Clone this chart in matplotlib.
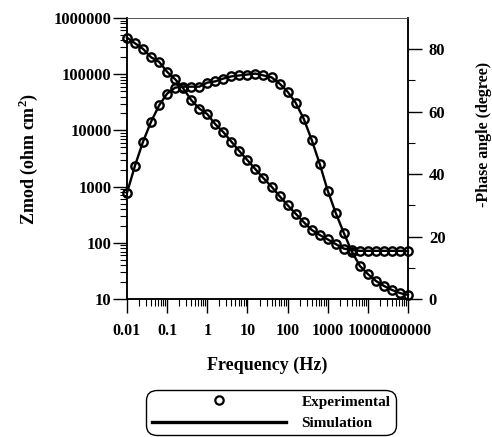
#!/usr/bin/env python3
import matplotlib
matplotlib.use('Agg')
import matplotlib.pyplot as plt
import matplotlib.ticker as mticker
from matplotlib.lines import Line2D

font = {'family': 'Liberation Serif', 'weight': 'bold', 'size': 12}
matplotlib.rc('font', **font)
matplotlib.rc('mathtext', fontset='custom', rm='Liberation Serif', bf='Liberation Serif:bold')

# frequencies (Hz), 5 points per decade
freq = [0.01, 0.0158, 0.0251, 0.0398, 0.0631,
        0.1, 0.158, 0.251, 0.398, 0.631,
        1, 1.58, 2.51, 3.98, 6.31,
        10, 15.8, 25.1, 39.8, 63.1,
        100, 158, 251, 398, 631,
        1000, 1580, 2510, 3980, 6310,
        10000, 15800, 25100, 39800, 63100,
        100000]

# impedance modulus (ohm cm2)
zmod = [447000, 355000, 282000, 200000, 166000,
        110000, 81300, 56200, 34700, 24500,
        19500, 12900, 9330, 6310, 4270,
        2950, 2040, 1410, 1000, 676,
        468, 331, 234, 170, 138,
        115, 95, 79, 74, 72,
        72, 72, 72, 72, 72,
        71]

# -phase angle (degree)
phase = [34.0, 42.7, 50.4, 56.8, 62.0,
         65.8, 67.7, 68.0, 68.0, 68.0,
         69.3, 69.7, 70.6, 71.3, 71.6,
         71.9, 72.2, 71.6, 71.0, 69.0,
         66.4, 62.9, 57.8, 51.0, 43.3,
         34.7, 27.6, 21.2, 15.2, 10.6,
         8.0, 5.8, 4.2, 2.9, 1.9,
         1.3]

W, H = 492, 437
fig = plt.figure(figsize=(W / 100, H / 100), dpi=100)
ax = fig.add_axes([127 / W, 1 - 299 / H, 281 / W, 281 / H])
ax2 = ax.twinx()

mk = dict(marker='o', markersize=6, markerfacecolor='none', markeredgecolor='black',
          markeredgewidth=1.7, linestyle='none', clip_on=False, zorder=5)

ax.plot(freq, zmod, '-', color='black', linewidth=1.7, clip_on=False, zorder=4)
ax.plot(freq, zmod, **mk)
ax2.plot(freq, phase, '-', color='black', linewidth=1.7, clip_on=False, zorder=4)
ax2.plot(freq, phase, **mk)

ax.set_xscale('log')
ax.set_yscale('log')
ax.set_xlim(0.01, 100000)
ax.set_ylim(10, 1000000)
ax2.set_ylim(0, 90)

def num_fmt(v, pos):
    if v >= 1:
        return '%d' % round(v)
    return '%g' % v

ax.xaxis.set_major_locator(mticker.LogLocator(base=10, numticks=20))
ax.xaxis.set_minor_locator(mticker.LogLocator(base=10, subs=range(2, 10), numticks=20))
ax.xaxis.set_major_formatter(mticker.FuncFormatter(num_fmt))
ax.xaxis.set_minor_formatter(mticker.NullFormatter())
ax.yaxis.set_major_locator(mticker.LogLocator(base=10, numticks=20))
ax.yaxis.set_minor_locator(mticker.LogLocator(base=10, subs=range(2, 10), numticks=20))
ax.yaxis.set_major_formatter(mticker.FuncFormatter(num_fmt))
ax.yaxis.set_minor_formatter(mticker.NullFormatter())

ax2.set_yticks([0, 20, 40, 60, 80])
ax2.set_yticks([10, 30, 50, 70], minor=True)

ax.tick_params(axis='x', which='major', direction='out', length=10, width=1, pad=7, labelsize=11.5)
ax.tick_params(axis='x', which='minor', direction='out', length=5, width=0.8)
ax.tick_params(axis='y', which='major', direction='out', length=10, width=1, pad=1)
ax.tick_params(axis='y', which='minor', direction='out', length=5, width=0.8)
ax2.tick_params(axis='y', which='major', direction='out', length=10, width=1, pad=5)
ax2.tick_params(axis='y', which='minor', direction='out', length=5, width=0.8)

for a in (ax, ax2):
    a.spines['top'].set_linewidth(0.6)
    a.spines['top'].set_color('#555555')
    a.spines['left'].set_linewidth(1.1)
    a.spines['bottom'].set_linewidth(1.1)
    a.spines['right'].set_linewidth(1.1)

ax.set_xlabel('Frequency (Hz)', fontsize=13, fontweight='bold')
ax.xaxis.set_label_coords(0.5, -0.205)
ax.set_ylabel(r'Zmod (ohm cm$^{\mathbf{2}}$)', fontsize=13, fontweight='bold')
ax.yaxis.set_label_coords(-0.31, 0.5)
ax2.set_ylabel('-Phase angle (degree)', fontsize=11.5, fontweight='bold')
ax2.yaxis.set_label_coords(1.243, 0.585)

handles = [Line2D([], [], marker='o', markersize=6, markerfacecolor='none',
                  markeredgecolor='black', markeredgewidth=1.6, linestyle='none'),
           Line2D([], [], color='black', linewidth=2.4)]
leg = fig.legend(handles, ['Experimental', 'Simulation'], loc='upper center',
                 bbox_to_anchor=(271 / W, 1 - 382 / H), fontsize=11, frameon=True,
                 handlelength=8.8, handletextpad=1.0, borderpad=0.35, labelspacing=0.5,
                 numpoints=1, edgecolor='black', fancybox=True, framealpha=1)
leg.get_frame().set_linewidth(1.0)
leg.get_frame().set_boxstyle('round,pad=0,rounding_size=0.7')

fig.savefig('out.png', dpi=100)
